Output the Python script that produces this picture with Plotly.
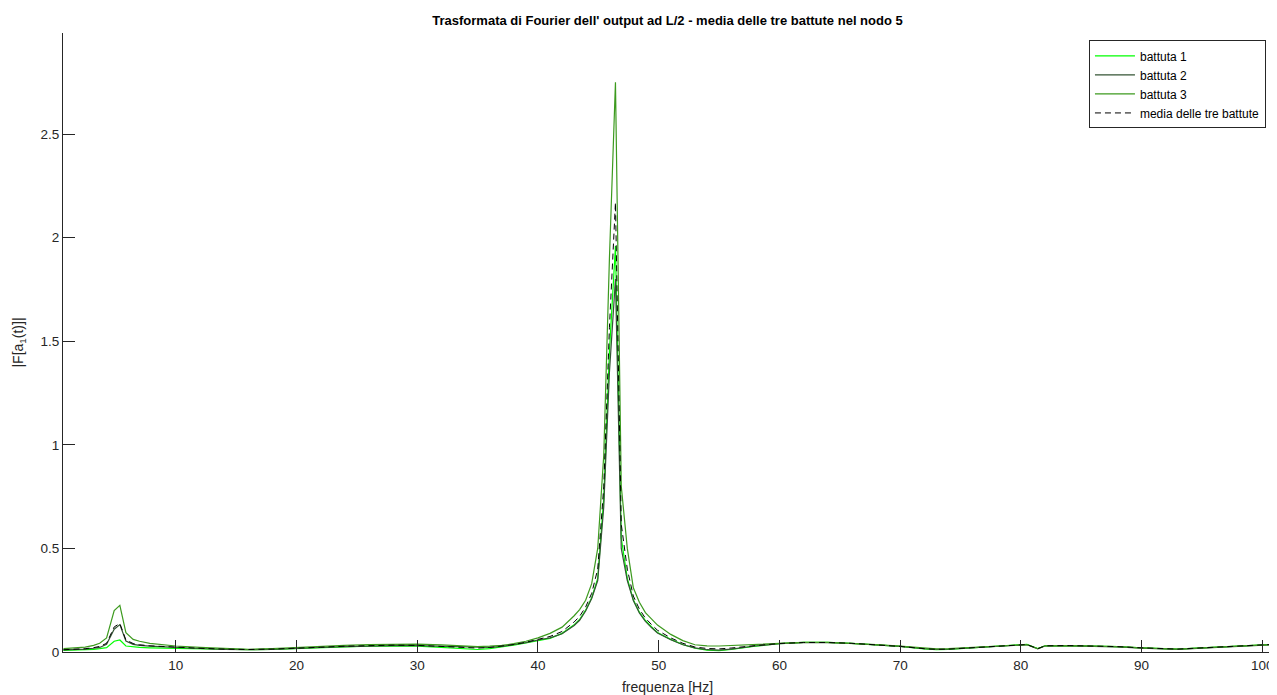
import plotly.graph_objects as go

freq = [0.7, 1.5, 2.5, 3.2, 3.7, 4.27, 4.9, 5.37, 5.87, 6.47,
        7.0, 7.85, 9.0, 10.0, 12.0, 14.0, 16.0, 18.0, 20.0, 22.0,
        24.0, 26.0, 28.0, 30.0, 32.0, 34.0, 35.0, 36.0, 37.0, 38.0,
        39.0, 40.0, 41.0, 42.0, 43.0, 43.45, 43.95, 44.45, 44.95, 45.45,
        45.92, 46.42, 46.9, 47.4, 47.9, 48.4, 48.9, 49.4, 49.9, 51.0,
        52.0, 53.0, 54.0, 55.0, 56.0, 58.0, 60.0, 62.0, 64.0, 66.0,
        68.0, 70.0, 72.0, 73.0, 74.0, 76.0, 78.0, 80.0, 80.5, 81.4,
        82.0, 84.0, 86.0, 88.0, 90.0, 92.0, 93.0, 95.0, 97.0, 100.0,
        100.6]

battuta1 = [0.008, 0.009, 0.011, 0.013, 0.016, 0.021, 0.052, 0.058, 0.029, 0.024,
            0.022, 0.020, 0.019, 0.018, 0.016, 0.013, 0.011, 0.013, 0.018, 0.021,
            0.025, 0.028, 0.029, 0.028, 0.022, 0.014, 0.012, 0.016, 0.024, 0.033,
            0.044, 0.056, 0.066, 0.090, 0.132, 0.157, 0.202, 0.262, 0.355, 0.740,
            1.450, 1.960, 0.550, 0.355, 0.252, 0.192, 0.152, 0.122, 0.094, 0.061,
            0.036, 0.018, 0.009, 0.007, 0.012, 0.028, 0.040, 0.046, 0.046, 0.042,
            0.035, 0.027, 0.015, 0.011, 0.013, 0.021, 0.028, 0.035, 0.037, 0.017,
            0.030, 0.031, 0.030, 0.026, 0.020, 0.016, 0.014, 0.020, 0.027, 0.035,
            0.036]

battuta2 = [0.010, 0.011, 0.014, 0.018, 0.022, 0.037, 0.110, 0.132, 0.053, 0.037,
            0.032, 0.028, 0.024, 0.021, 0.017, 0.013, 0.011, 0.013, 0.019, 0.022,
            0.026, 0.029, 0.031, 0.031, 0.028, 0.022, 0.020, 0.022, 0.027, 0.035,
            0.045, 0.058, 0.068, 0.088, 0.128, 0.153, 0.198, 0.258, 0.345, 0.700,
            1.350, 1.800, 0.500, 0.345, 0.248, 0.188, 0.148, 0.118, 0.092, 0.059,
            0.035, 0.020, 0.011, 0.009, 0.014, 0.029, 0.040, 0.045, 0.045, 0.041,
            0.035, 0.027, 0.016, 0.013, 0.014, 0.021, 0.027, 0.034, 0.035, 0.015,
            0.029, 0.030, 0.029, 0.025, 0.019, 0.015, 0.013, 0.019, 0.026, 0.034,
            0.035]

battuta3 = [0.016, 0.018, 0.024, 0.032, 0.042, 0.068, 0.200, 0.225, 0.093, 0.061,
            0.052, 0.042, 0.034, 0.029, 0.022, 0.016, 0.013, 0.016, 0.022, 0.026,
            0.032, 0.036, 0.038, 0.038, 0.034, 0.028, 0.026, 0.028, 0.032, 0.040,
            0.052, 0.068, 0.090, 0.120, 0.175, 0.205, 0.250, 0.330, 0.500, 0.950,
            1.900, 2.750, 0.800, 0.500, 0.310, 0.240, 0.190, 0.160, 0.130, 0.085,
            0.055, 0.035, 0.030, 0.029, 0.031, 0.036, 0.042, 0.046, 0.046, 0.042,
            0.036, 0.028, 0.018, 0.015, 0.016, 0.022, 0.028, 0.035, 0.036, 0.016,
            0.030, 0.031, 0.030, 0.026, 0.020, 0.016, 0.014, 0.020, 0.027, 0.035,
            0.036]

media = [0.011, 0.013, 0.016, 0.021, 0.027, 0.042, 0.121, 0.138, 0.058, 0.041,
         0.035, 0.030, 0.026, 0.023, 0.018, 0.014, 0.012, 0.014, 0.020, 0.023,
         0.028, 0.031, 0.033, 0.032, 0.028, 0.021, 0.019, 0.022, 0.028, 0.036,
         0.047, 0.061, 0.075, 0.099, 0.145, 0.172, 0.217, 0.283, 0.400, 0.797,
         1.567, 2.170, 0.617, 0.400, 0.270, 0.207, 0.163, 0.133, 0.105, 0.068,
         0.042, 0.024, 0.017, 0.015, 0.019, 0.031, 0.041, 0.046, 0.046, 0.042,
         0.035, 0.027, 0.016, 0.013, 0.014, 0.021, 0.028, 0.035, 0.036, 0.016,
         0.030, 0.031, 0.030, 0.026, 0.020, 0.016, 0.014, 0.020, 0.027, 0.035,
         0.036]

x_ticks = [10, 20, 30, 40, 50, 60, 70, 80, 90, 100]
x_tick_labels = ["10", "20", "30", "40", "50", "60", "70", "80", "90", "100"]
y_ticks = [0, 0.5, 1, 1.5, 2, 2.5]
y_tick_labels = ["0", "0.5", "1", "1.5", "2", "2.5"]

series = [
    ("battuta 1", battuta1, dict(color="#00FF00", width=1.2)),
    ("battuta 2", battuta2, dict(color="#345534", width=1.2)),
    ("battuta 3", battuta3, dict(color="#3C9A1E", width=1.2)),
    ("media delle tre battute", media, dict(color="#000000", width=1.0, dash="6px,4px")),
]

FONT = "Liberation Sans, Arial, Helvetica, sans-serif"
AX = "#262626"

# page body has an 8px margin: figure is sized/placed to compensate
W, H = 1269, 687

fig = go.Figure()
for name, vals, line in series:
    fig.add_trace(go.Scatter(x=freq, y=vals, mode="lines", name=name, line=line))

fig.update_layout(
    width=W, height=H,
    margin=dict(l=55, r=5, t=25, b=43),
    paper_bgcolor="white", plot_bgcolor="white",
    font=dict(family=FONT, color=AX, size=13),
    title=dict(text="<b>Trasformata di Fourier dell' output ad L/2 - media delle tre battute nel nodo 5</b>",
               x=(55 + 1264) / 2 / W, xanchor="center", y=1 - 12 / H, yanchor="middle",
               yref="container", font=dict(size=13, color="#000000", family=FONT),
               automargin=False),
    showlegend=True,
    legend=dict(x=0.995, xanchor="right", y=0.988, yanchor="top",
                bgcolor="white", bordercolor=AX, borderwidth=1,
                font=dict(size=12, color="#000000", family=FONT),
                tracegroupgap=0, itemwidth=40),
)

fig.update_xaxes(
    range=[0.66, 100.8], tickmode="array", tickvals=x_ticks, ticktext=x_tick_labels,
    showgrid=False, zeroline=False, showline=True, linecolor=AX, linewidth=1,
    ticks="inside", ticklen=12, tickcolor=AX, tickwidth=1, ticklabelstandoff=1,
    ticklabeloverflow="allow",
    tickfont=dict(size=13.5, color=AX, family=FONT),
    title=dict(text="frequenza [Hz]", font=dict(size=14, color=AX, family=FONT), standoff=19),
    mirror=False, automargin=False,
)
fig.update_yaxes(
    range=[0, 2.988], tickmode="array", tickvals=y_ticks, ticktext=y_tick_labels,
    showgrid=False, zeroline=False, showline=True, linecolor=AX, linewidth=1,
    ticks="inside", ticklen=12, tickcolor=AX, tickwidth=1,
    tickfont=dict(size=13.5, color=AX, family=FONT),
    title=dict(text="|F[a<sub>1</sub>(t)]|", font=dict(size=14, color=AX, family=FONT), standoff=13),
    mirror=False, automargin=False,
)

fig.write_html("out.html")
